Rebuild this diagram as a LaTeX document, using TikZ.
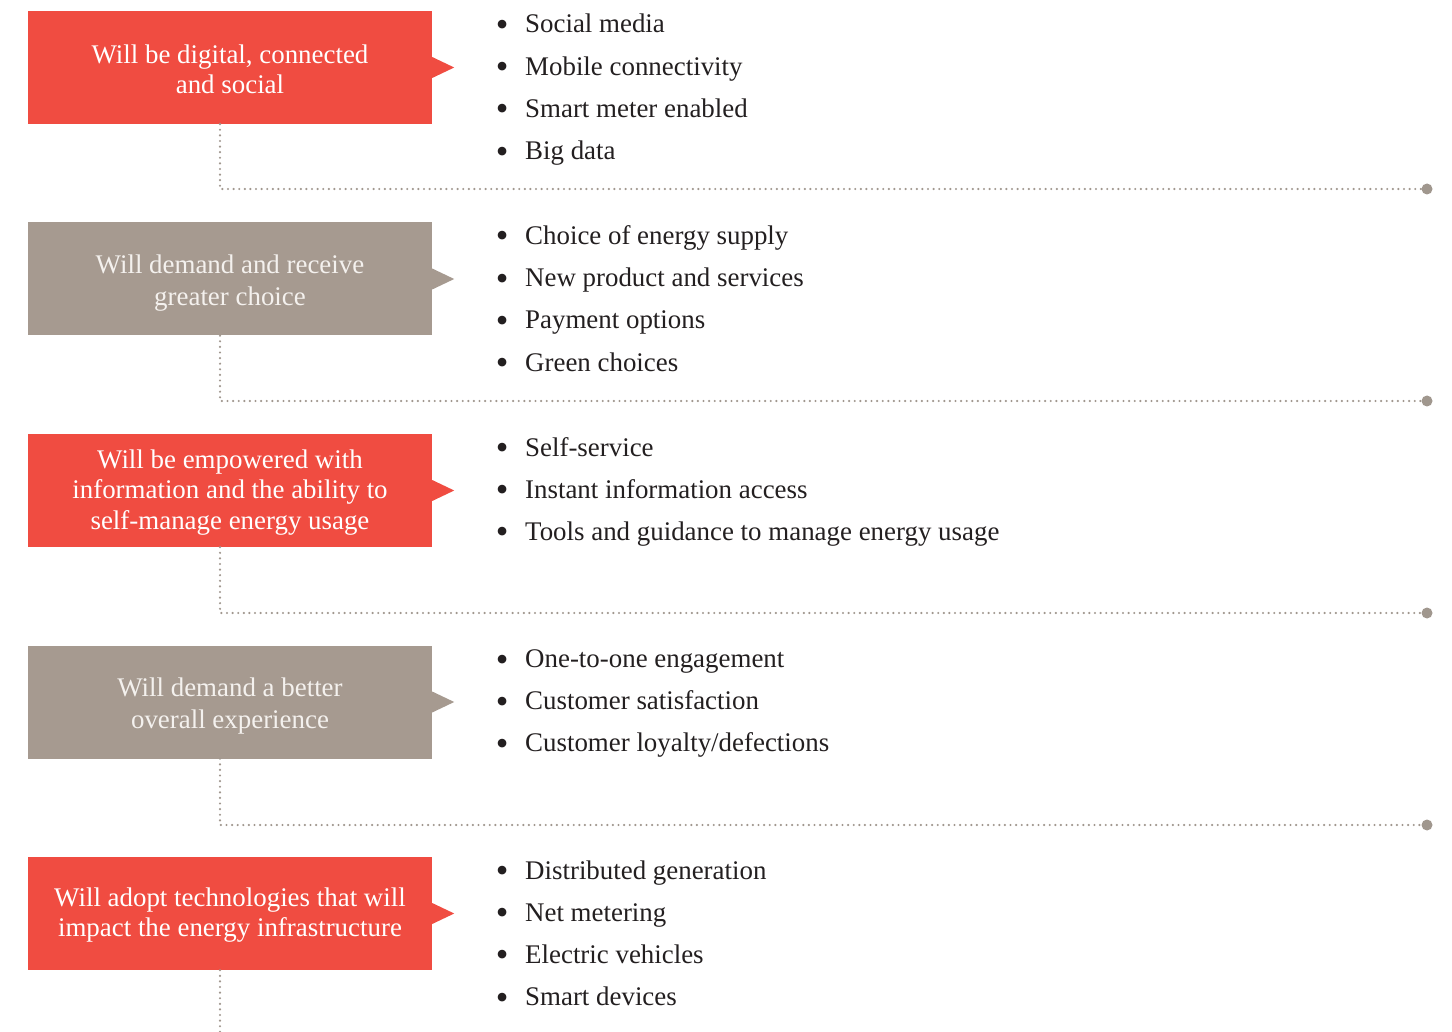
\documentclass[tikz,border=0pt]{standalone}
\usepackage{fontspec}
\setmainfont{Liberation Serif}
\definecolor{pwcred}{HTML}{F04C41}
\definecolor{pwcgray}{HTML}{A69A90}
\definecolor{dotgray}{HTML}{A0978E}
\definecolor{ink}{HTML}{231F20}
\definecolor{graytext}{HTML}{F4F1EE}
\newcommand{\bul}{\makebox[29.3pt][l]{\raisebox{-3.5pt}{\fontsize{36}{30}\selectfont\textbullet}}}
\newcommand{\redstrut}{\rule{0pt}{22pt}}
\newcommand{\graystrut}{\rule{0pt}{27pt}}
\begin{document}
\begin{tikzpicture}[x=1pt,y=-1pt,
  box/.style={minimum width=404pt, minimum height=113pt, inner sep=0pt, align=center},
  redbox/.style={box, fill=pwcred, text=white, font=\fontsize{26.9}{30.5}\selectfont},
  graybox/.style={box, fill=pwcgray, text=graytext, font=\fontsize{26.9}{31.5}\selectfont},
  item/.style={anchor=base west, inner sep=0pt, text=ink, font=\fontsize{26.9}{30}\selectfont},
  dotline/.style={draw=dotgray, line width=2.4pt, line cap=round, dash pattern=on 0pt off 5.6pt},
  enddot/.style={circle, fill=dotgray, inner sep=0pt, minimum size=11pt}]
\useasboundingbox (0,0) rectangle (1452,1032);
\fill[white] (0,0) rectangle (1452,1032);

% boxes
\node[redbox]  (b1) at (230,67.5)  {\redstrut Will be digital, connected\\and social};
\node[graybox] (b2) at (230,279)   {\graystrut Will demand and receive\\greater choice};
\node[redbox]  (b3) at (230,490.5) {\redstrut Will be empowered with\\information and the ability to\\self-manage energy usage};
\node[graybox] (b4) at (230,702)   {\graystrut Will demand a better\\overall experience};
\node[redbox]  (b5) at (230,913.5) {\redstrut Will adopt technologies that will\\impact the energy infrastructure};

% pointers
\fill[pwcred]  ([yshift=10.5pt]b1.east) -- ++(22,10.5) -- ++(-22,10.5) -- cycle;
\fill[pwcgray] ([yshift=10.5pt]b2.east) -- ++(22,10.5) -- ++(-22,10.5) -- cycle;
\fill[pwcred]  ([yshift=10.5pt]b3.east) -- ++(22,10.5) -- ++(-22,10.5) -- cycle;
\fill[pwcgray] ([yshift=10.5pt]b4.east) -- ++(22,10.5) -- ++(-22,10.5) -- cycle;
\fill[pwcred]  ([yshift=10.5pt]b5.east) -- ++(22,10.5) -- ++(-22,10.5) -- cycle;

% connector end dots
\node[enddot] (e1) at (1427,189) {};
\node[enddot] (e2) at (1427,401) {};
\node[enddot] (e3) at (1427,613) {};
\node[enddot] (e4) at (1427,825) {};
\coordinate (e5) at (220,1032);

\draw[dotline] ([xshift=-10pt]b1.south) |- (e1.west);
\draw[dotline] ([xshift=-10pt]b2.south) |- (e2.west);
\draw[dotline] ([xshift=-10pt]b3.south) |- (e3.west);
\draw[dotline] ([xshift=-10pt]b4.south) |- (e4.west);
\draw[dotline] ([xshift=-10pt]b5.south) -- (e5);

% bullet lists
\foreach \t [count=\j from 0] in {Social media, Mobile connectivity, Smart meter enabled, Big data}
  \node[item] (ia\j) at (495.7,{33+42.2*\j}) {\bul\t};
\foreach \t [count=\j from 0] in {Choice of energy supply, New product and services, Payment options, Green choices}
  \node[item] (ib\j) at (495.7,{244.5+42.2*\j}) {\bul\t};
\foreach \t [count=\j from 0] in {Self-service, Instant information access, Tools and guidance to manage energy usage}
  \node[item] (ic\j) at (495.7,{456+42.2*\j}) {\bul\t};
\foreach \t [count=\j from 0] in {One-to-one engagement, Customer satisfaction, Customer loyalty/defections}
  \node[item] (id\j) at (495.7,{667.5+42.2*\j}) {\bul\t};
\foreach \t [count=\j from 0] in {Distributed generation, Net metering, Electric vehicles, Smart devices}
  \node[item] (ie\j) at (495.7,{879+42.2*\j}) {\bul\t};
\end{tikzpicture}
\end{document}
